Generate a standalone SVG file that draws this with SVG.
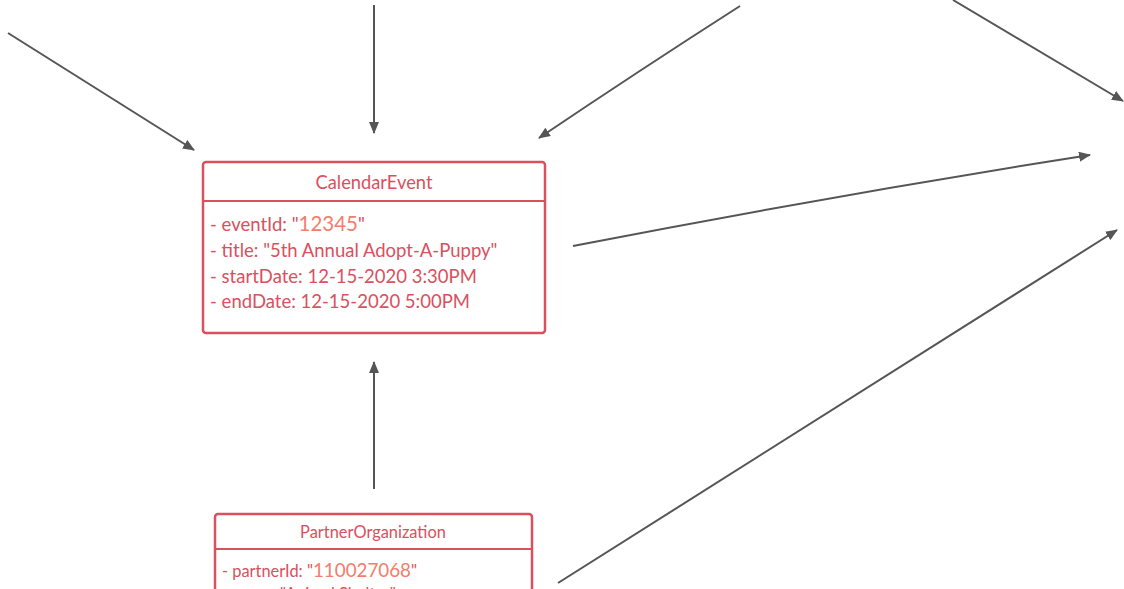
<svg xmlns="http://www.w3.org/2000/svg" width="1124" height="589" viewBox="0 0 1124 589">
<style>
.box{fill:#fff;stroke:#d9505e;stroke-width:2.5}
.div{stroke:#d9505e;stroke-width:2}
.t{font-family:Lato,"Liberation Sans",sans-serif;fill:#d9505e}
.n{fill:#f27d6b}
.c{fill:none;stroke:#555;stroke-width:2}
</style>
<defs>
<marker id="ah" viewBox="0 0 12 10" refX="11" refY="5" markerWidth="12" markerHeight="10" markerUnits="userSpaceOnUse" orient="auto">
<path d="M0,0 L12,5 L0,10 Z" fill="#555"/>
</marker>
</defs>
<rect width="1124" height="589" fill="#fff"/>
<g id="connectors">
<path class="c" d="M8,33 L194,150" marker-end="url(#ah)"/>
<path class="c" d="M374,5 L374,133" marker-end="url(#ah)"/>
<path class="c" d="M740,6 Q640,70 539,138" marker-end="url(#ah)"/>
<path class="c" d="M953,0 L1123,101" marker-end="url(#ah)"/>
<path class="c" d="M573,246 Q830,196 1090,155" marker-end="url(#ah)"/>
<path class="c" d="M558,583 L1117,230" marker-end="url(#ah)"/>
<path class="c" d="M374,489 L374,362" marker-end="url(#ah)"/>
</g>
<g id="CalendarEvent">
<rect class="box" x="203" y="162" width="342" height="171" rx="3"/>
<line class="div" x1="203" y1="201" x2="545" y2="201"/>
<text class="t" x="374" y="189" font-size="18.3" text-anchor="middle">CalendarEvent</text>
<text class="t" x="210" y="231" font-size="18.5">- eventId: "<tspan class="n" font-size="20.5">12345</tspan>"</text>
<text class="t" x="210" y="257" font-size="18.5">- title: "5th Annual Adopt-A-Puppy"</text>
<text class="t" x="210" y="283" font-size="18.5">- startDate: 12-15-2020 3:30PM</text>
<text class="t" x="210" y="308" font-size="18.5">- endDate: 12-15-2020 5:00PM</text>
</g>
<g id="PartnerOrganization">
<rect class="box" x="215" y="514" width="317" height="100" rx="3"/>
<line class="div" x1="215" y1="549" x2="532" y2="549"/>
<text class="t" x="373" y="538" font-size="16.4" text-anchor="middle">PartnerOrganization</text>
<text class="t" x="222" y="577" font-size="16.4">- partnerId: "<tspan class="n" font-size="18.8">110027068</tspan>"</text>
<text class="t" x="222" y="600" font-size="16.4">- name: "Animal Shelter"</text>
</g>
</svg>
